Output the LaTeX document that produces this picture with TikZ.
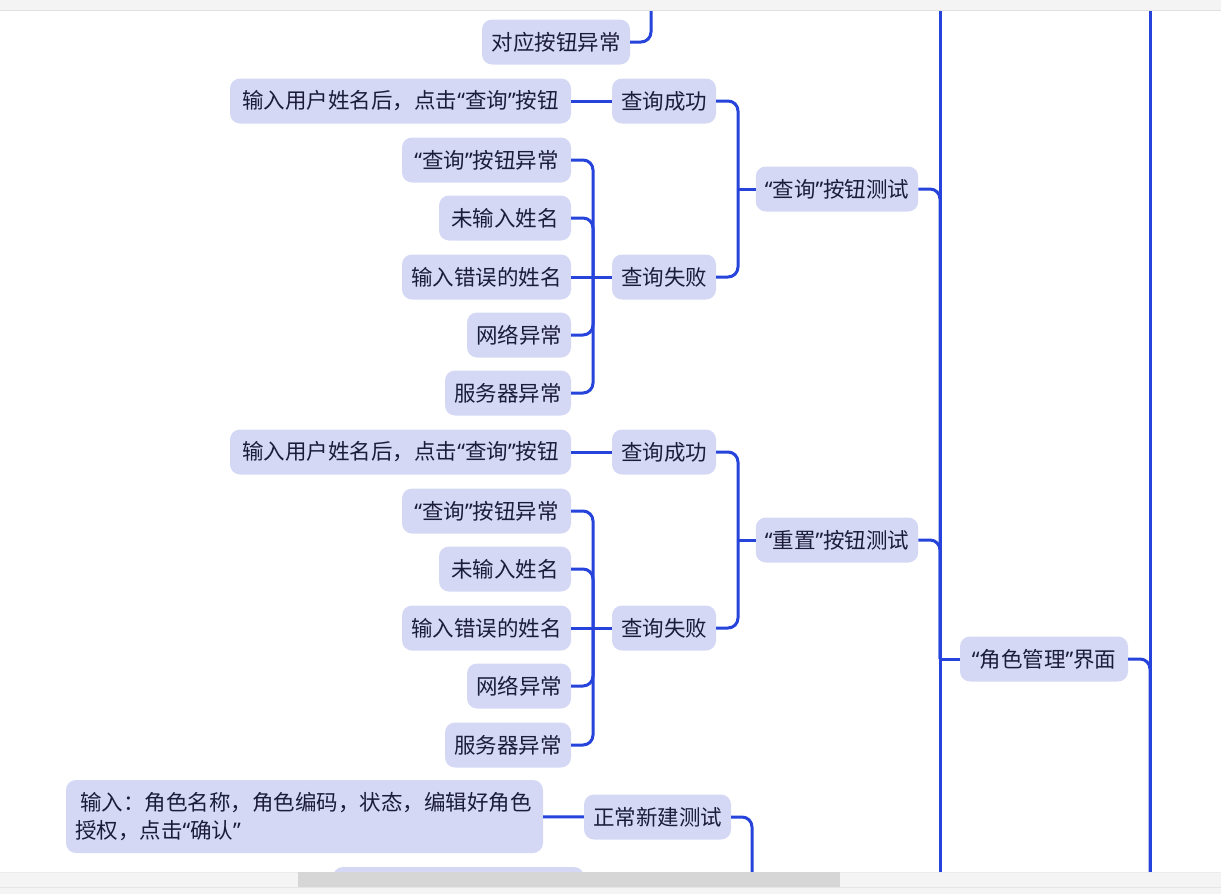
\documentclass[tikz,border=0pt]{standalone}
\usepackage{fontspec}
\setmainfont{Noto Sans CJK SC}
\newfontfamily\quotefont{Noto Sans}
\newcommand{\qopen}{{\quotefont “}}
\newcommand{\qclose}{{\quotefont ”}}
\usetikzlibrary{positioning}
\definecolor{linkcolor}{HTML}{2644DB}
\definecolor{topiccolor}{HTML}{D4D8F5}
\definecolor{textcolor}{HTML}{1B1B3A}
\definecolor{barcolor}{HTML}{F4F4F4}
\definecolor{thumbcolor}{HTML}{D6D6D6}

\begin{document}
\begin{tikzpicture}[x=1pt, y=-1pt,
    topic/.style={fill=topiccolor, rounded corners=10pt, minimum height=45pt,
                  inner xsep=9pt, text=textcolor, align=center,
                  font=\fontsize{21.5}{27}\selectfont},
    link/.style={draw=linkcolor, line width=3pt, rounded corners=10pt}
]
    \useasboundingbox[fill=white] (0,0) rectangle (1221,894);

    \node[topic, minimum width=148pt] (btnerr) at (556,42) {对应按钮异常};

    \node[topic, minimum width=104pt] (qok)   at (664,101) {查询成功};
    \node[topic, minimum width=341pt] (qokin) at (400.5,101) {输入用户姓名后，点击\qopen 查询\qclose 按钮};
    \node[topic, minimum width=104pt] (qfail) at (664,277) {查询失败};
    \node[topic, minimum width=169pt] (qfa)   at (486.5,160) {\qopen 查询\qclose 按钮异常};
    \node[topic, minimum width=132pt] (qfb)   at (505,218) {未输入姓名};
    \node[topic, minimum width=169pt] (qfc)   at (486.5,277) {输入错误的姓名};
    \node[topic, minimum width=104pt] (qfd)   at (519,335) {网络异常};
    \node[topic, minimum width=126pt] (qfe)   at (508,393) {服务器异常};
    \node[topic, minimum width=162pt] (qtest) at (837,189) {\qopen 查询\qclose 按钮测试};

    \node[topic, minimum width=104pt] (rok)   at (664,452) {查询成功};
    \node[topic, minimum width=341pt] (rokin) at (400.5,452) {输入用户姓名后，点击\qopen 查询\qclose 按钮};
    \node[topic, minimum width=104pt] (rfail) at (664,628) {查询失败};
    \node[topic, minimum width=169pt] (rfa)   at (486.5,511) {\qopen 查询\qclose 按钮异常};
    \node[topic, minimum width=132pt] (rfb)   at (505,569) {未输入姓名};
    \node[topic, minimum width=169pt] (rfc)   at (486.5,628) {输入错误的姓名};
    \node[topic, minimum width=104pt] (rfd)   at (519,686) {网络异常};
    \node[topic, minimum width=126pt] (rfe)   at (508,745) {服务器异常};
    \node[topic, minimum width=162pt] (rtest) at (837,540) {\qopen 重置\qclose 按钮测试};

    \node[topic, minimum width=168pt] (role)  at (1044,659) {\qopen 角色管理\qclose 界面};

    \node[topic, minimum width=147pt] (newok) at (657.5,817) {正常新建测试};
    \node[topic, minimum width=477pt, minimum height=73pt, align=left,
          text width=459pt, font=\fontsize{21.5}{28}\selectfont] (newin) at (304.5,816.5)
          {\hspace*{5pt}输入：角色名称，角色编码，状态，编辑好角色\\授权，点击\qopen 确认\qclose};
    \node[topic, minimum width=251pt] (newnext) at (458.5,889.5) {};

    \coordinate (qfbar) at (593,277);
    \coordinate (qbar)  at (738,189);
    \coordinate (rfbar) at (593,628);
    \coordinate (rbar)  at (738,540);
    \coordinate (rolebar) at (940,659);
    \coordinate (roletop) at (940,10);
    \coordinate (rolebot) at (940,894);
    \coordinate (uptop) at (1150,10);
    \coordinate (upbot) at (1150,894);
    \coordinate (btntop) at (651,0);
    \coordinate (newbot) at (752,894);

    \draw[link] (btnerr.east) -| (btntop);

    \draw[link] (qokin) -- (qok);
    \foreach \n in {qfa, qfb, qfd, qfe} {
        \draw[link] (\n.east) -| (qfbar);
    }
    \draw[link] (qfc) -- (qfail);
    \draw[link] (qok.east) -| (qbar);
    \draw[link] (qfail.east) -| (qbar);
    \draw[link] (qbar) -- (qtest.west);

    \draw[link] (rokin) -- (rok);
    \foreach \n in {rfa, rfb, rfd, rfe} {
        \draw[link] (\n.east) -| (rfbar);
    }
    \draw[link] (rfc) -- (rfail);
    \draw[link] (rok.east) -| (rbar);
    \draw[link] (rfail.east) -| (rbar);
    \draw[link] (rbar) -- (rtest.west);

    \draw[link] (roletop) -- (rolebot);
    \draw[link] (qtest.east) -| (rolebar);
    \draw[link] (rtest.east) -| (rolebar);
    \draw[link] (rolebar) -- (role.west);

    \draw[link] (uptop) -- (upbot);
    \draw[link] (role.east) -| (upbot);

    \draw[link] (newin) -- (newok);
    \draw[link] (newok.east) -| (newbot);

    \fill[barcolor] (0,0) rectangle (1221,10);
    \draw[black!12] (0,10.5) -- (1221,10.5);
    \fill[barcolor] (0,872) rectangle (1221,894);
    \draw[black!8] (0,872) -- (1221,872);
    \draw[black!10] (0,887.5) -- (1221,887.5);
    \fill[thumbcolor] (298,872) rectangle (840,887);
\end{tikzpicture}
\end{document}
